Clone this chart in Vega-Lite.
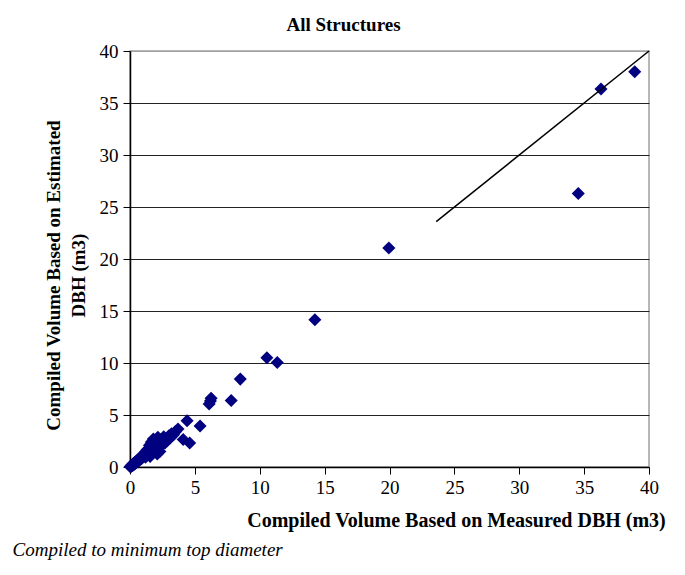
{
  "$schema": "https://vega.github.io/schema/vega-lite/v6.json",
  "width": 519,
  "height": 416,
  "autosize": "none",
  "padding": {"left": 130, "top": 51, "right": 36, "bottom": 108},
  "background": "white",
  "title": {
    "text": "All Structures",
    "font": "Liberation Serif",
    "fontSize": 19,
    "fontWeight": "bold",
    "color": "black",
    "anchor": "middle",
    "frame": "group",
    "dx": -46,
    "offset": 7
  },
  "config": {
    "view": {"stroke": "#a0a0a0", "strokeWidth": 1.5},
    "axis": {
      "labelFont": "Liberation Serif",
      "titleFont": "Liberation Serif",
      "labelColor": "black",
      "titleColor": "black",
      "labelFontSize": 19,
      "titleFontSize": 19,
      "domainColor": "black",
      "domainWidth": 1.5,
      "tickColor": "black",
      "tickWidth": 1,
      "labelFlush": false,
      "labelOverlap": false
    }
  },
  "datasets": {
    "pts": [
      {"measured": 0.02, "estimated": 0.03}, {"measured": 0.05, "estimated": 0.04}, {"measured": 0.08, "estimated": 0.1},
      {"measured": 0.1, "estimated": 0.07}, {"measured": 0.12, "estimated": 0.15}, {"measured": 0.15, "estimated": 0.12},
      {"measured": 0.18, "estimated": 0.2}, {"measured": 0.2, "estimated": 0.25}, {"measured": 0.22, "estimated": 0.18},
      {"measured": 0.25, "estimated": 0.3}, {"measured": 0.28, "estimated": 0.22}, {"measured": 0.3, "estimated": 0.35},
      {"measured": 0.33, "estimated": 0.3}, {"measured": 0.35, "estimated": 0.4}, {"measured": 0.38, "estimated": 0.32},
      {"measured": 0.4, "estimated": 0.45}, {"measured": 0.42, "estimated": 0.38}, {"measured": 0.45, "estimated": 0.5},
      {"measured": 0.48, "estimated": 0.42}, {"measured": 0.5, "estimated": 0.55}, {"measured": 0.55, "estimated": 0.6},
      {"measured": 0.58, "estimated": 0.5}, {"measured": 0.6, "estimated": 0.68}, {"measured": 0.65, "estimated": 0.6},
      {"measured": 0.7, "estimated": 0.75}, {"measured": 0.72, "estimated": 0.65}, {"measured": 0.75, "estimated": 0.85},
      {"measured": 0.8, "estimated": 0.78}, {"measured": 0.85, "estimated": 0.95}, {"measured": 0.88, "estimated": 0.8},
      {"measured": 0.9, "estimated": 1.05}, {"measured": 0.95, "estimated": 0.9}, {"measured": 1.0, "estimated": 1.15},
      {"measured": 1.05, "estimated": 1.0}, {"measured": 1.1, "estimated": 1.3}, {"measured": 1.15, "estimated": 1.1},
      {"measured": 1.2, "estimated": 1.45}, {"measured": 1.2, "estimated": 0.95}, {"measured": 1.25, "estimated": 1.25},
      {"measured": 1.3, "estimated": 1.6}, {"measured": 1.35, "estimated": 1.2}, {"measured": 1.4, "estimated": 1.75},
      {"measured": 1.45, "estimated": 1.4}, {"measured": 1.5, "estimated": 2.1}, {"measured": 1.55, "estimated": 1.0},
      {"measured": 1.6, "estimated": 1.6}, {"measured": 1.65, "estimated": 2.4}, {"measured": 1.7, "estimated": 1.3},
      {"measured": 1.75, "estimated": 1.9}, {"measured": 1.8, "estimated": 2.7}, {"measured": 1.85, "estimated": 1.5},
      {"measured": 1.9, "estimated": 2.2}, {"measured": 2.0, "estimated": 1.8}, {"measured": 2.05, "estimated": 2.5},
      {"measured": 2.1, "estimated": 1.25}, {"measured": 2.15, "estimated": 2.85}, {"measured": 2.2, "estimated": 2.1},
      {"measured": 2.3, "estimated": 1.5}, {"measured": 2.35, "estimated": 2.6}, {"measured": 2.45, "estimated": 2.1},
      {"measured": 2.5, "estimated": 2.4}, {"measured": 2.6, "estimated": 2.9}, {"measured": 2.7, "estimated": 2.3},
      {"measured": 2.8, "estimated": 2.7}, {"measured": 2.9, "estimated": 2.6}, {"measured": 3.0, "estimated": 3.0},
      {"measured": 3.1, "estimated": 2.8}, {"measured": 3.2, "estimated": 3.2}, {"measured": 3.35, "estimated": 3.1},
      {"measured": 3.5, "estimated": 3.4}, {"measured": 3.7, "estimated": 3.65},
      {"measured": 4.1, "estimated": 2.65}, {"measured": 4.6, "estimated": 2.3}, {"measured": 4.4, "estimated": 4.45},
      {"measured": 5.4, "estimated": 3.95}, {"measured": 6.1, "estimated": 6.05}, {"measured": 6.2, "estimated": 6.35},
      {"measured": 6.25, "estimated": 6.6}, {"measured": 7.8, "estimated": 6.4}, {"measured": 8.5, "estimated": 8.45},
      {"measured": 10.55, "estimated": 10.5}, {"measured": 11.35, "estimated": 10.05}, {"measured": 14.25, "estimated": 14.15},
      {"measured": 19.95, "estimated": 21.05}, {"measured": 34.55, "estimated": 26.3}, {"measured": 36.3, "estimated": 36.35},
      {"measured": 38.9, "estimated": 38.0}
    ],
    "line": [
      {"measured": 23.6, "estimated": 23.6},
      {"measured": 40, "estimated": 40}
    ]
  },
  "layer": [
    {
      "data": {"name": "pts"},
      "mark": {"type": "point", "shape": "diamond", "filled": true, "color": "#000080", "size": 170, "opacity": 1},
      "encoding": {
        "x": {
          "field": "measured",
          "type": "quantitative",
          "scale": {"domain": [0, 40], "nice": false, "zero": true},
          "axis": {
            "orient": "bottom",
            "values": [0, 5, 10, 15, 20, 25, 30, 35, 40],
            "grid": false,
            "tickSize": 7,
            "labelPadding": 4,
            "title": "Compiled Volume Based on Measured DBH (m3)",
            "titleFontSize": 20,
            "titleFontWeight": "bold",
            "titleX": 326,
            "titleY": 53,
            "titleAlign": "center",
            "titleBaseline": "middle"
          }
        },
        "y": {
          "field": "estimated",
          "type": "quantitative",
          "scale": {"domain": [0, 40], "nice": false, "zero": true},
          "axis": {
            "values": [0, 5, 10, 15, 20, 25, 30, 35, 40],
            "grid": true,
            "gridColor": {"condition": {"test": "datum.value === 40 || datum.value === 0", "value": "#a0a0a0"}, "value": "#222222"},
            "gridWidth": 1,
            "tickSize": 7,
            "labelPadding": 5,
            "title": ["Compiled Volume Based on Estimated", "DBH (m3)"],
            "titleFontSize": 19,
            "titleFontWeight": "bold",
            "titleAngle": 270,
            "titleX": -77,
            "titleY": 224,
            "titleAlign": "center",
            "titleBaseline": "middle",
            "titleLineHeight": 25
          }
        }
      }
    },
    {
      "data": {"name": "line"},
      "mark": {"type": "line", "color": "black", "strokeWidth": 1.5},
      "encoding": {
        "x": {
          "field": "measured",
          "type": "quantitative",
          "axis": {
            "orient": "bottom",
            "labels": false,
            "ticks": false,
            "domain": false,
            "grid": false,
            "title": "Compiled to minimum top diameter",
            "titleFontSize": 19,
            "titleFontStyle": "italic",
            "titleFontWeight": "normal",
            "titleAlign": "left",
            "titleBaseline": "middle",
            "titleX": -118,
            "titleY": 82
          }
        },
        "y": {"field": "estimated", "type": "quantitative"}
      }
    }
  ],
  "resolve": {"axis": {"x": "independent"}}
}
